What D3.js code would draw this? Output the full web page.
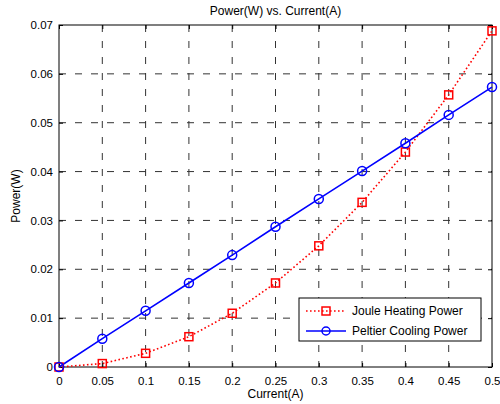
<!DOCTYPE html>
<html lang="en">
<head>
  <meta charset="UTF-8">
  <title>Power(W) vs. Current(A)</title>
  <style>
    body { margin: 0; padding: 0; background: #fff; }
    svg { display: block; }
    text { font-family: 'Liberation Sans', Arial, sans-serif; font-size: 12px; fill: #000; }
    .grid line { stroke: #333; stroke-width: 1px; stroke-dasharray: 7,9; }
    .box { fill: none; stroke: #000; stroke-width: 1px; }
  </style>
</head>
<body>
  <svg width="500" height="404"></svg>

  <script src="https://d3js.org/d3.v7.min.js"></script>
  <script>
    const current = [0, 0.05, 0.1, 0.15, 0.2, 0.25, 0.3, 0.35, 0.4, 0.45, 0.5];
    const joule = [0, 0.0007, 0.0028, 0.0062, 0.0110, 0.0172, 0.0248, 0.0337, 0.0440, 0.0557, 0.0688];
    const peltier = [0, 0.0058, 0.0115, 0.0172, 0.0229, 0.0287, 0.0344, 0.0401, 0.0458, 0.0516, 0.0573];
    const xTicks = [0, 0.05, 0.1, 0.15, 0.2, 0.25, 0.3, 0.35, 0.4, 0.45, 0.5];
    const yTicks = [0, 0.01, 0.02, 0.03, 0.04, 0.05, 0.06, 0.07];
    const seriesNames = ["Joule Heating Power", "Peltier Cooling Power"];

    const svg = d3.select("svg");
    const plotL = 59, plotT = 25, plotR = 492, plotB = 367;

    const x = d3.scaleLinear().domain([0, 0.5]).range([plotL, plotR]);
    const y = d3.scaleLinear().domain([0, 0.07]).range([plotB, plotT]);

    // grid
    const grid = svg.append("g").attr("class", "grid");
    grid.selectAll(".vx").data(xTicks.slice(1, -1)).enter().append("line")
      .attr("x1", d => x(d)).attr("x2", d => x(d))
      .attr("y1", plotT).attr("y2", plotB);
    grid.selectAll(".hy").data(yTicks.slice(1, -1)).enter().append("line")
      .attr("x1", plotL).attr("x2", plotR)
      .attr("y1", d => y(d)).attr("y2", d => y(d));

    // axes with inner ticks
    const fmt = d => d3.format("~g")(d);
    svg.append("g").attr("transform", `translate(0,${plotB})`)
      .call(d3.axisBottom(x).tickValues(xTicks).tickFormat(fmt).tickSizeInner(-4).tickSizeOuter(0).tickPadding(10));
    svg.append("g").attr("transform", `translate(0,${plotT})`)
      .call(d3.axisTop(x).tickValues(xTicks).tickFormat("").tickSizeInner(-4).tickSizeOuter(0));
    svg.append("g").attr("transform", `translate(${plotL},0)`)
      .call(d3.axisLeft(y).tickValues(yTicks).tickFormat(fmt).tickSizeInner(-4).tickSizeOuter(0).tickPadding(6));
    svg.append("g").attr("transform", `translate(${plotR},0)`)
      .call(d3.axisRight(y).tickValues(yTicks).tickFormat("").tickSizeInner(-4).tickSizeOuter(0));
    svg.selectAll(".domain").remove();
    svg.selectAll(".tick line").attr("stroke", "#000");
    svg.selectAll(".tick text").style("font-size", "11.5px").style("font-family", "'Liberation Sans', Arial, sans-serif");

    svg.append("rect").attr("class", "box")
      .attr("x", plotL).attr("y", plotT).attr("width", plotR - plotL).attr("height", plotB - plotT);

    // series
    const line = d3.line().x(d => x(d[0])).y(d => y(d[1]));
    const jData = current.map((c, i) => [c, joule[i]]);
    const pData = current.map((c, i) => [c, peltier[i]]);

    svg.append("path").attr("d", line(jData))
      .attr("fill", "none").attr("stroke", "#ff0000").attr("stroke-width", 1.6).attr("stroke-dasharray", "1.6,2.4");
    svg.append("path").attr("d", line(pData))
      .attr("fill", "none").attr("stroke", "#0000ff").attr("stroke-width", 1.6);

    svg.selectAll(".sq").data(jData).enter().append("rect")
      .attr("x", d => x(d[0]) - 4).attr("y", d => y(d[1]) - 4)
      .attr("width", 8).attr("height", 8)
      .attr("fill", "none").attr("stroke", "#ff0000").attr("stroke-width", 1.5);
    svg.selectAll(".ci").data(pData).enter().append("circle")
      .attr("cx", d => x(d[0])).attr("cy", d => y(d[1])).attr("r", 4.5)
      .attr("fill", "none").attr("stroke", "#0000ff").attr("stroke-width", 1.5);

    // labels
    svg.append("text").attr("x", (plotL + plotR) / 2).attr("y", 15)
      .attr("text-anchor", "middle").text("Power(W) vs. Current(A)");
    svg.append("text").attr("x", (plotL + plotR) / 2).attr("y", 398)
      .attr("text-anchor", "middle").text("Current(A)");
    svg.append("text").attr("transform", `translate(20,${(plotT + plotB) / 2}) rotate(-90)`)
      .attr("text-anchor", "middle").text("Power(W)");

    // legend
    const lg = svg.append("g").attr("transform", "translate(299,298)");
    lg.append("rect").attr("width", 182).attr("height", 43)
      .attr("fill", "#fff").attr("stroke", "#000").attr("stroke-width", 1);
    const rows = [
      { name: seriesNames[0], color: "#ff0000", dash: "1.6,2.4", marker: "square" },
      { name: seriesNames[1], color: "#0000ff", dash: null, marker: "circle" }
    ];
    rows.forEach((r, i) => {
      const yy = 13 + i * 20;
      lg.append("line").attr("x1", 7).attr("x2", 47).attr("y1", yy).attr("y2", yy)
        .attr("stroke", r.color).attr("stroke-width", 1.6).attr("stroke-dasharray", r.dash);
      if (r.marker === "square") {
        lg.append("rect").attr("x", 23).attr("y", yy - 4).attr("width", 8).attr("height", 8)
          .attr("fill", "none").attr("stroke", r.color).attr("stroke-width", 1.5);
      } else {
        lg.append("circle").attr("cx", 27).attr("cy", yy).attr("r", 4)
          .attr("fill", "none").attr("stroke", r.color).attr("stroke-width", 1.5);
      }
      lg.append("text").attr("x", 53).attr("y", yy + 4).text(r.name);
    });
  </script>
</body>
</html>
